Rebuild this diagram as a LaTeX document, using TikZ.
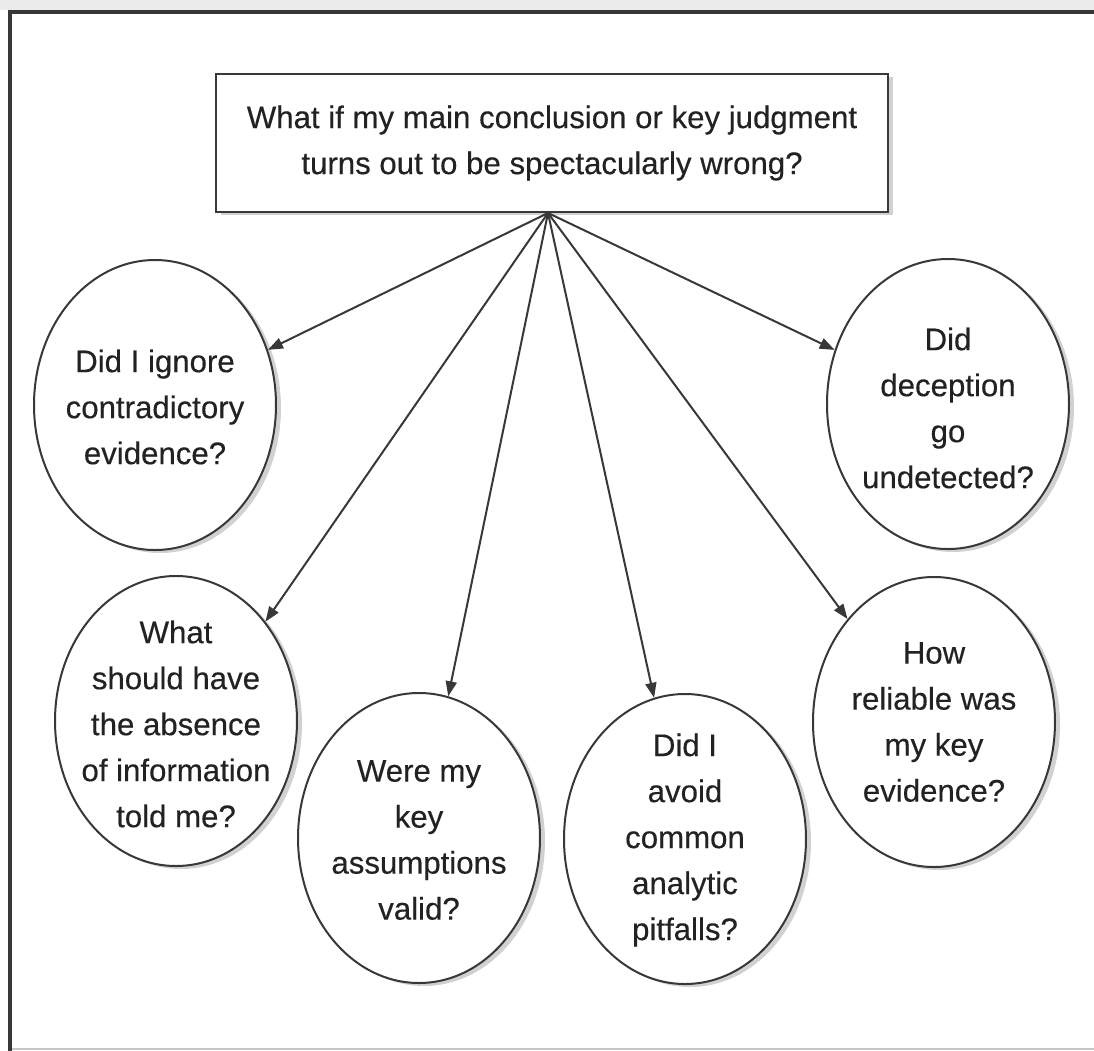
\documentclass[tikz,border=0pt]{standalone}
\usepackage{fontspec}
\setmainfont[FakeBold=0.35]{Liberation Sans}
\usetikzlibrary{shapes.geometric,arrows.meta,shadows}
\definecolor{ink}{HTML}{222222}
\definecolor{edgec}{HTML}{383838}
\begin{document}
\begin{tikzpicture}[x=0.5pt,y=-0.5pt,
  shad/.style={drop shadow={shadow xshift=2.5pt, shadow yshift=-1.5pt, fill=black!45, opacity=0.4}},
  qshape/.style={ellipse, draw=edgec, line width=1pt, fill=white,
    minimum width=121pt, minimum height=145pt, inner sep=0pt, shad},
  qtext/.style={align=center, font=\fontsize{15.6}{23}\selectfont, text=ink, inner sep=0pt},
  topbox/.style={rectangle, draw=edgec, line width=1pt, fill=white,
    minimum width=336pt, minimum height=69pt, inner sep=0pt, shad, qtext},
  arr/.style={draw=edgec, line width=1pt, -{Triangle[length=7.5pt,width=5.5pt]}},
  ]
\useasboundingbox (0,0) rectangle (1094,1051);
% frame
\fill[black!8] (0,0) rectangle (1094,10);
\draw[black!22, line width=1pt] (10,1049) -- (1094,1049);
\draw[edgec, line width=1.8pt] (10,1051) -- (10,12) -- (1094,12);

% top question
\node[topbox] (top) at (552,143) {What if my main conclusion or key judgment\\turns out to be spectacularly wrong?};
\coordinate (src) at (548,213);

% sub-questions
\node[qshape] (e1) at (155,405) {};
\node[qtext] (t1) at (155,407) {Did I ignore\\contradictory\\evidence?};

\node[qshape] (e2) at (948,404) {};
\node[qtext] (t2) at (948,408) {Did\\deception\\go\\undetected?};

\node[qshape] (e3) at (176,721) {};
\node[qtext] (t3) at (176,724) {What\\should have\\the absence\\of information\\told me?};

\node[qshape] (e4) at (419,838) {};
\node[qtext] (t4) at (419,840) {Were my\\key\\assumptions\\valid?};

\node[qshape] (e5) at (685,839) {};
\node[qtext] (t5) at (685,840) {Did I\\avoid\\common\\analytic\\pitfalls?};

\node[qshape] (e6) at (934,722) {};
\node[qtext] (t6) at (934,722) {How\\reliable was\\my key\\evidence?};

% connectors
\draw[arr] (src) -- (e1);
\draw[arr] (src) -- (e3.48);
\draw[arr] (src) -- (e4);
\draw[arr] (src) -- (e5);
\draw[arr] (src) -- (e6.130);
\draw[arr] (src) -- (e2);
\end{tikzpicture}
\end{document}
